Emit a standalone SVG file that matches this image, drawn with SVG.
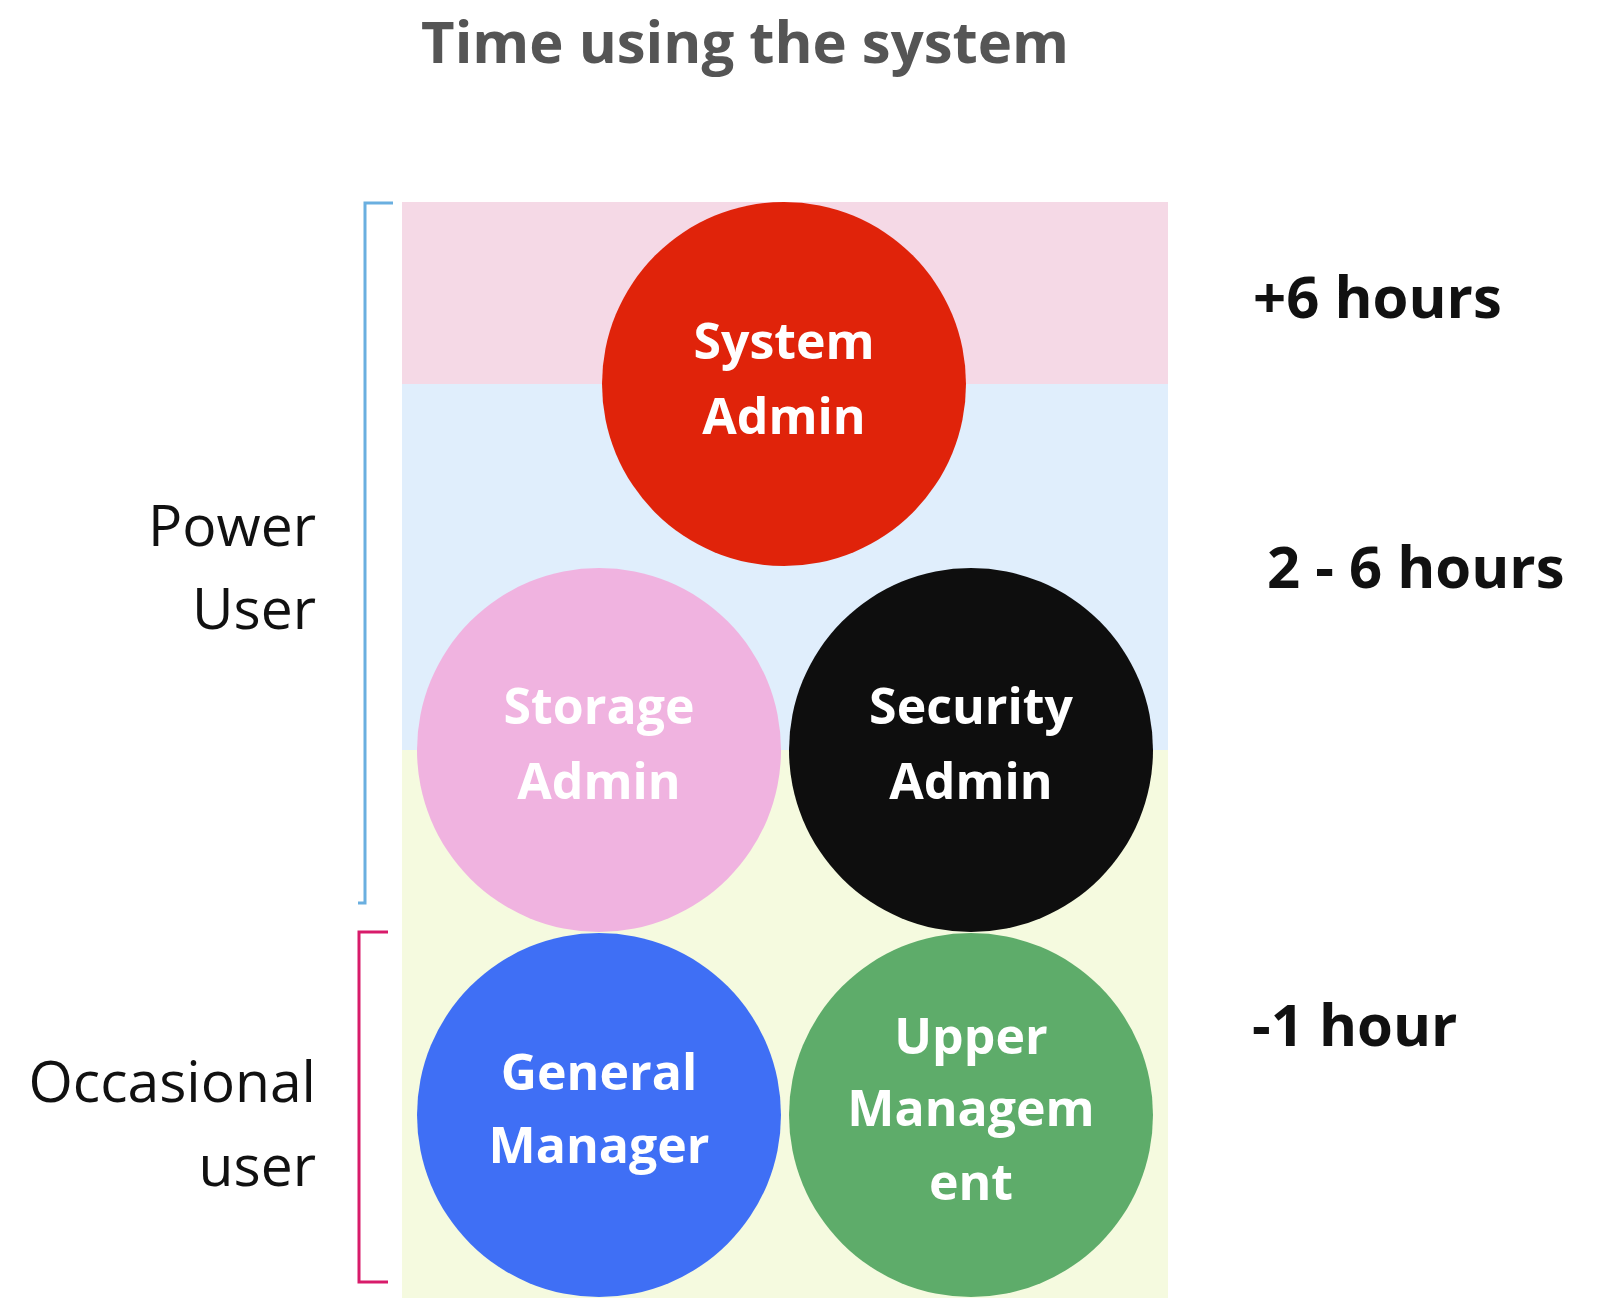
<svg xmlns="http://www.w3.org/2000/svg" width="1600" height="1298" viewBox="0 0 1600 1298">
<style>
text{font-family:"Open Sans","Noto Sans","Liberation Sans",sans-serif}
.ct{font-weight:bold;font-size:50px;fill:#fff;text-anchor:middle}
.hr{font-weight:bold;font-size:58px;fill:#111}
.side{font-size:57px;fill:#111;text-anchor:end}
</style>
<rect width="1600" height="1298" fill="#fff"/>
<rect x="402" y="202" width="766" height="182" fill="#F5D9E6"/>
<rect x="402" y="384" width="766" height="366" fill="#E0EEFC"/>
<rect x="402" y="750" width="766" height="548" fill="#F5FADF"/>
<text x="745" y="63" text-anchor="middle" font-size="58" font-weight="bold" fill="#555">Time using the system</text>
<g id="connectors" fill="none" stroke-width="3">
<path d="M393 203H365V903H358" stroke="#6AAFE0"/>
<path d="M388 932H359V1282H388" stroke="#D81B6A"/>
</g>
<g id="system"><circle cx="784" cy="384" r="182" fill="#E0230A"/><text class="ct" x="784" y="359">System</text><text class="ct" x="784" y="434">Admin</text></g>
<g id="storage"><circle cx="599" cy="750" r="182" fill="#F0B3E0"/><text class="ct" x="599" y="724">Storage</text><text class="ct" x="599" y="799">Admin</text></g>
<g id="security"><circle cx="971" cy="750" r="182" fill="#0E0E0E"/><text class="ct" x="971" y="724">Security</text><text class="ct" x="971" y="799">Admin</text></g>
<g id="general"><circle cx="599" cy="1115" r="182" fill="#3F6FF5"/><text class="ct" x="599" y="1090">General</text><text class="ct" x="599" y="1163">Manager</text></g>
<g id="upper"><circle cx="971" cy="1115" r="182" fill="#5EAC6A"/><text class="ct" x="971" y="1054">Upper</text><text class="ct" x="971" y="1126">Managem</text><text class="ct" x="971" y="1200">ent</text></g>
<text class="hr" x="1253" y="318">+6 hours</text>
<text class="hr" x="1267" y="588">2 - 6 hours</text>
<text class="hr" x="1252" y="1046">-1 hour</text>
<text class="side" x="316" y="546">Power</text>
<text class="side" x="316" y="629">User</text>
<text class="side" x="316" y="1102">Occasional</text>
<text class="side" x="316" y="1186">user</text>
</svg>
